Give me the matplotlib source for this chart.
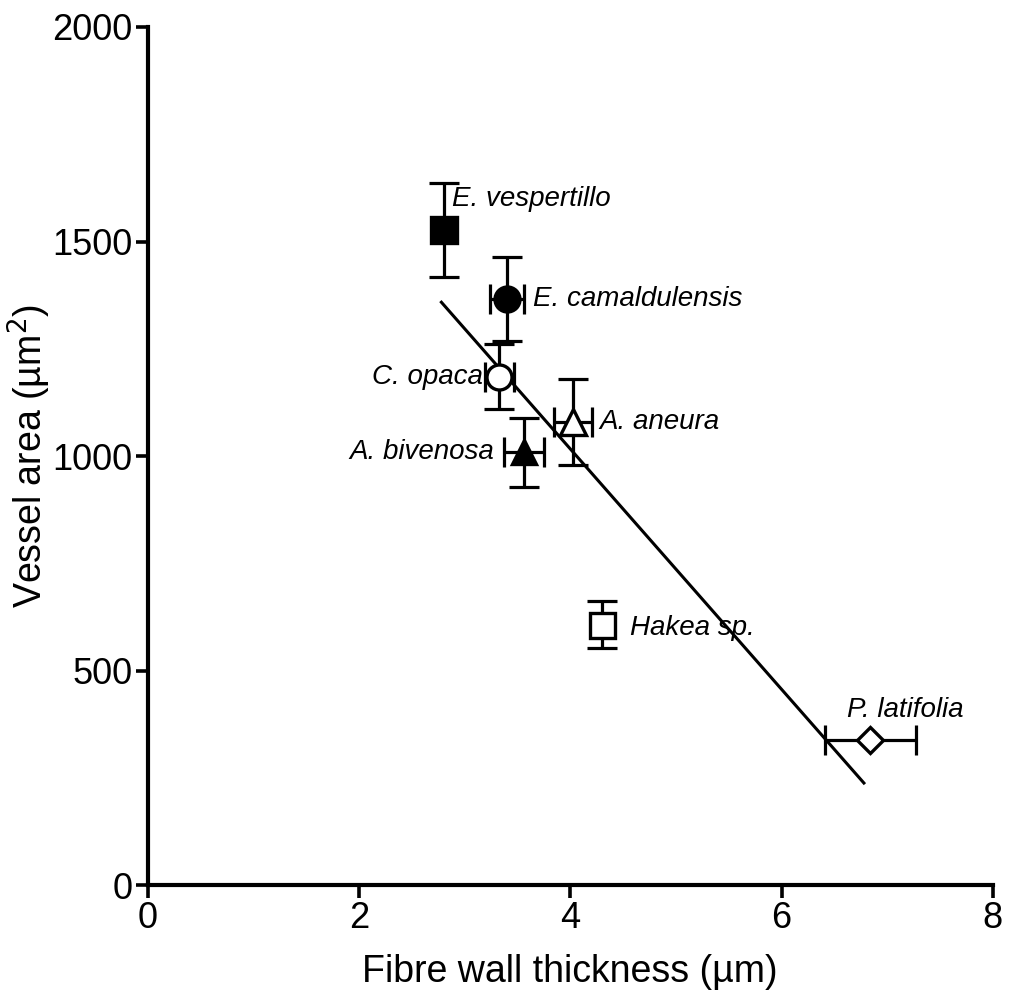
import matplotlib
matplotlib.use("Agg")
import matplotlib.pyplot as plt
import numpy as np

plt.rcParams["font.family"] = ["Liberation Sans", "DejaVu Sans"]

# species means and SE
species = ["E. vespertillo", "E. camaldulensis", "C. opaca", "A. aneura",
           "A. bivenosa", "Hakea sp.", "P. latifolia"]
fibre_wall = [2.80, 3.40, 3.33, 4.03, 3.56, 4.30, 6.84]
fibre_err = [0.0, 0.16, 0.14, 0.18, 0.19, 0.0, 0.43]
vessel_area = [1527, 1366, 1185, 1080, 1009, 607, 338]
vessel_err = [110, 97, 76, 100, 80, 55, 0]

# regression line
fit_slope = -280.0
fit_intercept = 2137.0
fit_x = [2.78, 6.78]

markers = ["s", "o", "o", "^", "^", "s", "D"]
filled = [True, True, False, False, True, False, False]
msizes = [19, 18, 18, 19, 17, 18, 13]
# label offsets (points) and alignment
offsets = [(6, 22), (19, 0), (-12, 0), (19, 0), (-21, 0), (20, -2), (-17, 22)]
aligns = ["left", "left", "right", "left", "right", "left", "left"]

fig = plt.figure(figsize=(10.12, 9.96), dpi=100)
ax = fig.add_axes([0.146, 0.111, 0.835, 0.862])

fx = np.array(fit_x)
ax.plot(fx, fit_slope * fx + fit_intercept, "-", color="black", lw=2.2, zorder=2)

for i in range(len(species)):
    ax.errorbar(fibre_wall[i], vessel_area[i],
                xerr=fibre_err[i] if fibre_err[i] > 0 else None,
                yerr=vessel_err[i] if vessel_err[i] > 0 else None,
                fmt="none", ecolor="black", elinewidth=2.3, capsize=11,
                capthick=2.3, zorder=3)
    ax.plot(fibre_wall[i], vessel_area[i], markers[i], ms=msizes[i],
            mfc="black" if filled[i] else "white", mec="black", mew=2.4,
            zorder=4)
    ax.annotate(species[i], (fibre_wall[i], vessel_area[i]),
                xytext=offsets[i], textcoords="offset points",
                ha=aligns[i], va="center", fontsize=20, style="italic")

ax.set_xlim(0, 8)
ax.set_ylim(0, 2000)
ax.set_xticks([0, 2, 4, 6, 8])
ax.set_yticks([0, 500, 1000, 1500, 2000])
ax.set_xlabel("Fibre wall thickness (µm)", fontsize=27, labelpad=13)
ax.set_ylabel("Vessel area (µm$^2$)", fontsize=27)
ax.yaxis.set_label_coords(-0.112, 0.5)
ax.tick_params(labelsize=26, width=2.6, length=9, direction="out", pad=2)
for s in ["top", "right"]:
    ax.spines[s].set_visible(False)
for s in ["left", "bottom"]:
    ax.spines[s].set_linewidth(3)

fig.savefig("out.png", dpi=100)
